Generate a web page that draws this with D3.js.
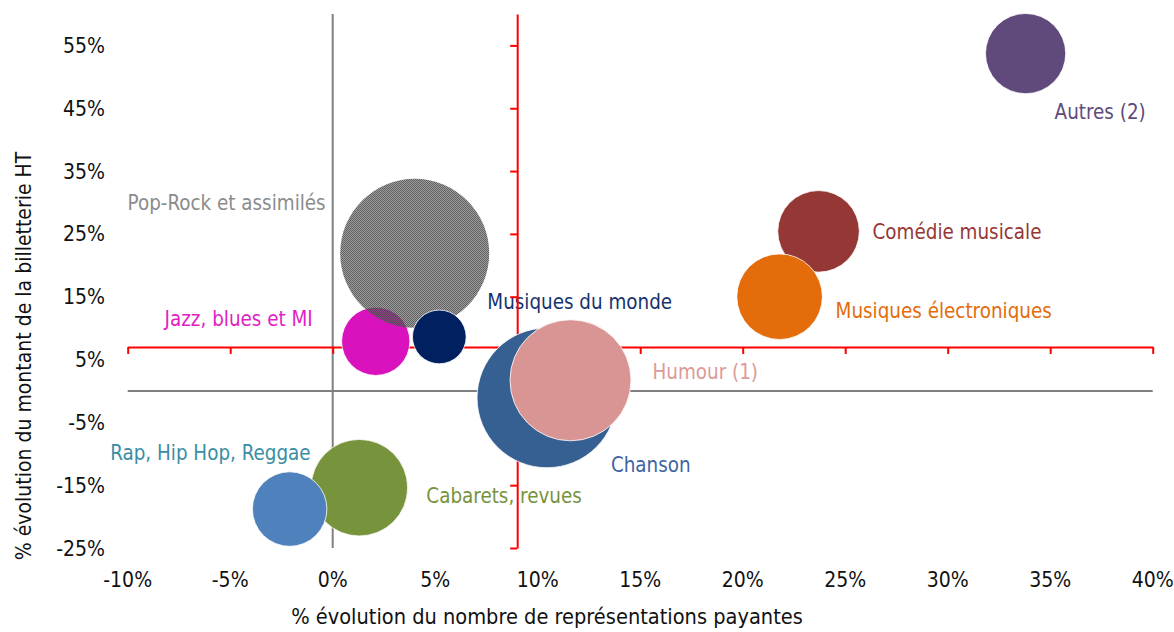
<!DOCTYPE html>
<html>
<head>
<meta charset="utf-8">
<script src="https://cdn.jsdelivr.net/npm/d3@7"></script>
<style>
  html, body { margin: 0; padding: 0; background: #fff; }
  svg text { font-family: "Liberation Sans Narrow", "Arial Narrow", "DejaVu Sans Condensed", sans-serif; }
</style>
</head>
<body>
<div id="chart"></div>
<script>
// genres, x = % évolution des représentations, y = % évolution billetterie, size = bubble size
const genres = ['Comédie musicale', 'Musiques électroniques', 'Autres (2)', 'Jazz, blues et MI',
  'Pop-Rock et assimilés', 'Musiques du monde', 'Chanson', 'Humour (1)', 'Cabarets, revues',
  'Rap, Hip Hop, Reggae'];
const evolRepresentations = [23.7, 21.8, 33.8, 2.1, 4.0, 5.2, 10.45, 11.6, 1.3, -2.1];
const evolBilletterie = [25.4, 15.0, 53.7, 7.9, 21.9, 8.6, -1.1, 1.7, -15.4, -18.8];
const bubbleSize = [30, 33, 29, 21, 100, 13, 88, 66, 42, 25];

const xTicks = [-10, -5, 0, 5, 10, 15, 20, 25, 30, 35, 40];
const yTicks = [55, 45, 35, 25, 15, 5, -5, -15, -25];

// crossing point of the red axes
const crossX = 9;
const crossY = 7;

const colors = {
  'Comédie musicale': '#953735',
  'Musiques électroniques': '#e46c0a',
  'Autres (2)': '#604a7b',
  'Jazz, blues et MI': '#d912be',
  'Pop-Rock et assimilés': 'url(#dots)',
  'Musiques du monde': '#002060',
  'Chanson': '#376092',
  'Humour (1)': '#d99594',
  'Cabarets, revues': '#77933c',
  'Rap, Hip Hop, Reggae': '#4f81bd',
};
const labelColors = {
  'Comédie musicale': '#953735',
  'Musiques électroniques': '#e46c0a',
  'Autres (2)': '#604a7b',
  'Jazz, blues et MI': '#e01ec4',
  'Pop-Rock et assimilés': '#8c8c8c',
  'Musiques du monde': '#17336e',
  'Chanson': '#3f64a0',
  'Humour (1)': '#dc9a99',
  'Cabarets, revues': '#77933c',
  'Rap, Hip Hop, Reggae': '#3a8ea4',
};
// label offsets from bubble centre (px) and anchor
const labelPlace = {
  'Comédie musicale': [54, 0, 'start'],
  'Musiques électroniques': [56, 14, 'start'],
  'Autres (2)': [29, 58, 'start'],
  'Jazz, blues et MI': [-63, -22, 'end'],
  'Pop-Rock et assimilés': [-89, -50, 'end'],
  'Musiques du monde': [48, -35, 'start'],
  'Chanson': [64, 67, 'start'],
  'Humour (1)': [82, -8, 'start'],
  'Cabarets, revues': [67, 8, 'start'],
  'Rap, Hip Hop, Reggae': [21, -56, 'end'],
};

const data = genres.map((g, i) => ({
  name: g, x: evolRepresentations[i], y: evolBilletterie[i], size: bubbleSize[i],
}));

const W = 1174;
const H = 632;
const svg = d3.select('#chart').append('svg')
  .attr('width', W).attr('height', H);

// fine grey dither for the Pop-Rock bubble
const defs = svg.append('defs');
const pat = defs.append('pattern')
  .attr('id', 'dots')
  .attr('patternUnits', 'userSpaceOnUse')
  .attr('width', 2).attr('height', 2);
pat.append('rect').attr('width', 2).attr('height', 2).attr('fill', 'rgba(95,95,95,0.6)');
pat.append('rect').attr('x', 0).attr('y', 0).attr('width', 1).attr('height', 1).attr('fill', 'rgba(70,70,70,0.72)');
pat.append('rect').attr('x', 1).attr('y', 1).attr('width', 1).attr('height', 1).attr('fill', 'rgba(70,70,70,0.72)');

const x = d3.scaleLinear().domain([-10, 40]).range([127.7, 1152.7]);
const y = d3.scaleLinear().domain([-25, 60]).range([548, 14]);
const r = d3.scaleSqrt().domain([0, 100]).range([0, 74.5]);

// grey zero lines
svg.append('line')
  .attr('x1', x(0)).attr('x2', x(0))
  .attr('y1', y(60)).attr('y2', y(-25))
  .attr('stroke', '#808080').attr('stroke-width', 2);
svg.append('line')
  .attr('x1', x(-10)).attr('x2', x(40))
  .attr('y1', y(0)).attr('y2', y(0))
  .attr('stroke', '#808080').attr('stroke-width', 2);

// tick labels
svg.append('g').selectAll('text')
  .data(yTicks)
  .join('text')
  .attr('x', 105)
  .attr('y', (d) => y(d))
  .attr('dy', '0.36em')
  .attr('text-anchor', 'end')
  .attr('font-size', 21)
  .attr('fill', '#111')
  .text((d) => `${d}%`);

svg.append('g').selectAll('text')
  .data(xTicks)
  .join('text')
  .attr('x', (d) => x(d))
  .attr('y', 587)
  .attr('text-anchor', 'middle')
  .attr('font-size', 21)
  .attr('fill', '#111')
  .text((d) => `${d}%`);

// axis titles
svg.append('text')
  .attr('x', 547)
  .attr('y', 624)
  .attr('text-anchor', 'middle')
  .attr('font-size', 21.6)
  .attr('fill', '#111')
  .text('% évolution du nombre de représentations payantes');

svg.append('text')
  .attr('transform', 'translate(31,356) rotate(-90)')
  .attr('text-anchor', 'middle')
  .attr('font-size', 21)
  .attr('fill', '#111')
  .text('% évolution du montant de la billetterie HT');

// data labels
svg.append('g').selectAll('text')
  .data(data)
  .join('text')
  .attr('x', (d) => x(d.x) + labelPlace[d.name][0])
  .attr('y', (d) => y(d.y) + labelPlace[d.name][1])
  .attr('dy', '0.35em')
  .attr('text-anchor', (d) => labelPlace[d.name][2])
  .attr('font-size', 20.4)
  .attr('fill', (d) => labelColors[d.name])
  .text((d) => d.name);

// red crossing axes
const redX = svg.append('g')
  .attr('transform', `translate(0,${y(crossY)})`)
  .call(d3.axisBottom(x).tickValues(xTicks).tickSize(7).tickSizeOuter(0).tickFormat(''));
const redY = svg.append('g')
  .attr('transform', `translate(${x(crossX)},0)`)
  .call(d3.axisLeft(y).tickValues(yTicks).tickSize(7).tickSizeOuter(0).tickFormat(''));
[redX, redY].forEach((g) => {
  g.select('.domain').attr('stroke', '#ff0000').attr('stroke-width', 2);
  g.selectAll('.tick line').attr('stroke', '#ff0000').attr('stroke-width', 2);
});

// bubbles
svg.append('g').selectAll('circle')
  .data(data)
  .join('circle')
  .attr('cx', (d) => x(d.x))
  .attr('cy', (d) => y(d.y))
  .attr('r', (d) => r(d.size))
  .attr('fill', (d) => colors[d.name])
  .attr('stroke', (d) => (d.name === 'Pop-Rock et assimilés' ? 'none' : '#fff'))
  .attr('stroke-width', 0.8);
</script>
</body>
</html>
